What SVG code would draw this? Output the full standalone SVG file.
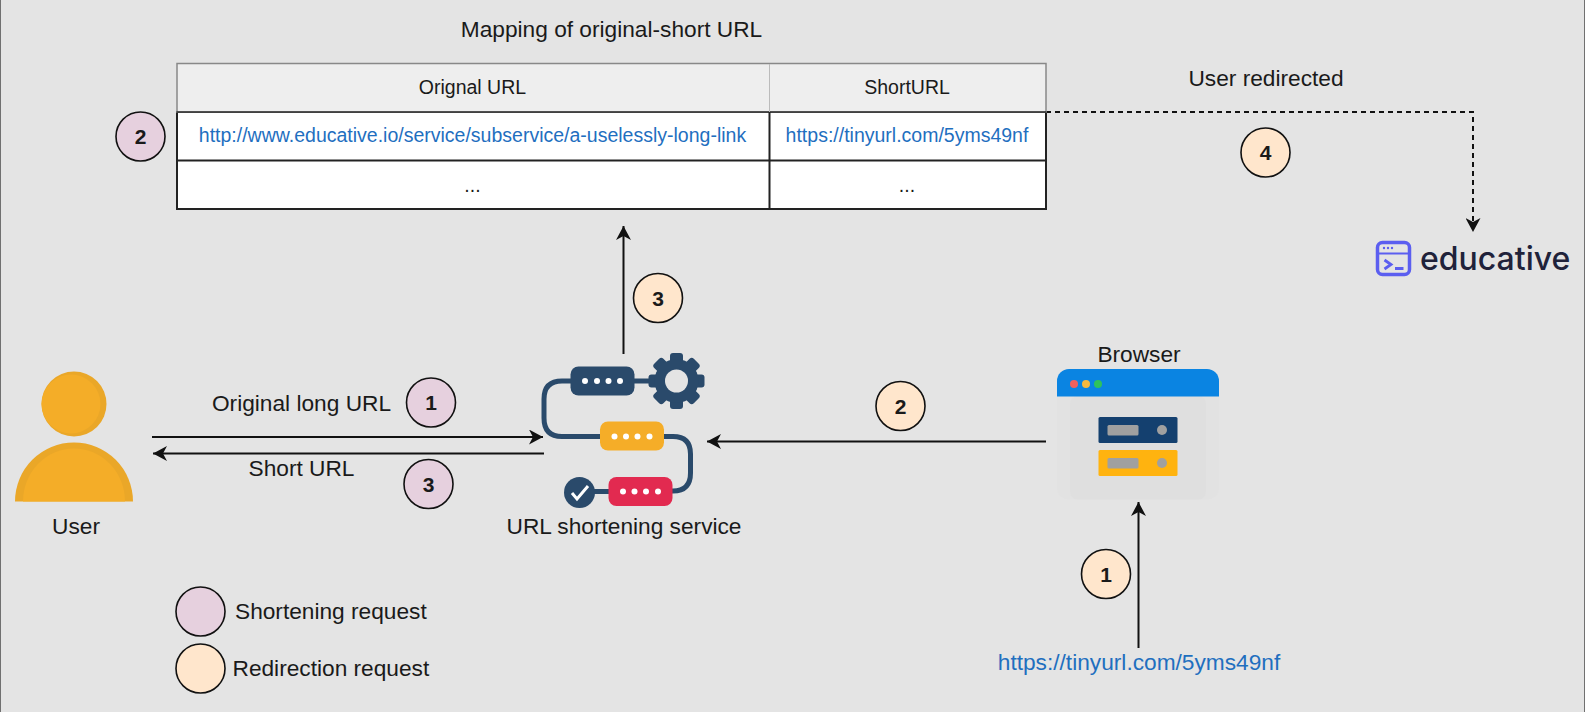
<svg xmlns="http://www.w3.org/2000/svg" width="1585" height="712" viewBox="0 0 1585 712">
<style>
text{font-family:"Liberation Sans",Arial,sans-serif;fill:#1a1a1a;font-size:22.7px}
.m{text-anchor:middle}
.t{font-size:19.5px}
.u{fill:#1f6fbf}
.n{font-size:21px;font-weight:700;text-anchor:middle}
.pk{fill:#e6d0de;stroke:#111;stroke-width:1.6}
.or{fill:#ffe6cc;stroke:#111;stroke-width:1.6}
.c{fill:none;stroke:#111;stroke-width:2}
.p{fill:none;stroke:#2a4a6b;stroke-width:5}
.d{fill:#fff}
.g{fill:#a0a0a0}
.b{fill:#5b5ef0}
</style>
<defs>
<marker id="a" markerWidth="15" markerHeight="15" refX="14" refY="7.5" orient="auto" markerUnits="userSpaceOnUse"><path d="M0 0L14 7.5L0 15L4 7.5Z" fill="#111"/></marker>
</defs>
<rect width="1585" height="712" fill="#e4e4e4"/>
<path d="M0.500 0V712M1584.500 0V712" stroke="#707070" fill="none"/>
<g id="connectors">
<path class="c" marker-end="url(#a)" d="M152 437H543"/>
<path class="c" marker-end="url(#a)" d="M544 453.500H153"/>
<path class="c" marker-end="url(#a)" d="M1046 441.500H707"/>
<path class="c" marker-end="url(#a)" d="M623.500 354V226"/>
<path class="c" marker-end="url(#a)" d="M1138.500 648V502"/>
<path class="c" marker-end="url(#a)" stroke-dasharray="5 4" d="M1046 112H1473V232"/>
</g>
<g id="table">
<rect x="177" y="112" width="869" height="97" fill="#fff" stroke="#222" stroke-width="2"/>
<rect x="177" y="63.500" width="869" height="48.500" fill="#eee" stroke="#888" stroke-width="1.500"/>
<path d="M177 112H1046" stroke="#333" stroke-width="1.300" fill="none"/>
<path d="M177 160.500H1046M769.500 112V209" stroke="#222" stroke-width="2" fill="none"/>
<path d="M769.500 64V112" stroke="#bbb" stroke-width="1"/>
<text class="t m" x="472.500" y="93.500">Orignal URL</text>
<text class="t m" x="907" y="93.500">ShortURL</text>
<text class="t m u" x="472.500" y="142">http://www.educative.io/service/subservice/a-uselessly-long-link</text>
<text class="t m u" x="907" y="142">https://tinyurl.com/5yms49nf</text>
<text class="t m" x="472.500" y="192">...</text>
<text class="t m" x="907" y="192">...</text>
</g>
<text id="title" class="m" x="611.500" y="37">Mapping of original-short URL</text>
<text id="redir" class="m" x="1266" y="86">User redirected</text>
<g id="user">
<circle cx="74" cy="404" r="32.500" fill="#eaa728"/>
<circle cx="71" cy="404" r="29.500" fill="#f4ad28"/>
<path d="M15 501.500A59 59 0 0 1 133 501.500Z" fill="#eaa728"/>
<path d="M23 501.500A51 53 0 0 1 125 501.500Z" fill="#f4ad28"/>
<text class="m" x="76" y="534">User</text>
</g>
<g id="service">
<path class="p" d="M572 381H562Q544 381 544 399V418Q544 436.500 562 436.500H602"/>
<path class="p" d="M662 436.500H673Q690.500 436.500 690.500 454V473Q690.500 491 673 491H670"/>
<path class="p" d="M590 491.500H610M632 381H655"/>
<g fill="#2a4a6b" transform="translate(676.500 381)">
<rect x="-28" y="-6.500" width="56" height="13" rx="3"/>
<rect x="-28" y="-6.500" width="56" height="13" rx="3" transform="rotate(45)"/>
<rect x="-28" y="-6.500" width="56" height="13" rx="3" transform="rotate(90)"/>
<rect x="-28" y="-6.500" width="56" height="13" rx="3" transform="rotate(135)"/>
<circle r="22"/>
<circle r="11.500" fill="#e4e4e4"/>
</g>
<rect x="570.500" y="366.500" width="64" height="29" rx="8" fill="#2a4a6b"/>
<rect x="600" y="421.500" width="64" height="29" rx="8" fill="#f5ad28"/>
<rect x="608.500" y="477" width="64" height="29" rx="8" fill="#e22a50"/>
<g class="d">
<circle cx="585" cy="381" r="3"/><circle cx="597" cy="381" r="3"/><circle cx="608.500" cy="381" r="3"/><circle cx="620" cy="381" r="3"/>
<circle cx="614.500" cy="436.500" r="3"/><circle cx="626" cy="436.500" r="3"/><circle cx="637.500" cy="436.500" r="3"/><circle cx="649.500" cy="436.500" r="3"/>
<circle cx="623" cy="491.500" r="3"/><circle cx="634.500" cy="491.500" r="3"/><circle cx="646" cy="491.500" r="3"/><circle cx="658" cy="491.500" r="3"/>
</g>
<circle cx="579.500" cy="492.500" r="15.500" fill="#2a4a6b"/>
<path d="M572 493L577 499L588 486" fill="none" stroke="#fff" stroke-width="3"/>
<text class="m" x="624" y="534">URL shortening service</text>
</g>
<g id="browser">
<text class="m" x="1139" y="361.500">Browser</text>
<rect x="1057" y="369" width="162" height="130.500" rx="12" fill="#e2e2e2"/>
<rect x="1070" y="396" width="136" height="103.500" rx="8" fill="#dfdfdf"/>
<path d="M1057 396.500V381A12 12 0 0 1 1069 369H1207A12 12 0 0 1 1219 381V396.500Z" fill="#0a84e2"/>
<circle cx="1074" cy="384" r="4" fill="#f0605c"/><circle cx="1086" cy="384" r="4" fill="#f5b93f"/><circle cx="1098" cy="384" r="4" fill="#2fc25b"/>
<rect x="1098.500" y="417" width="79" height="26" rx="1.500" fill="#14406f"/>
<rect x="1107.500" y="425" width="31" height="10.500" rx="1.500" class="g"/>
<circle cx="1162" cy="430" r="5" class="g"/>
<rect x="1098.500" y="450" width="79" height="26" rx="1.500" fill="#ffb30f"/>
<rect x="1107.500" y="458" width="31" height="10.500" rx="1.500" class="g"/>
<circle cx="1162" cy="463" r="5" class="g"/>
</g>
<g id="educative">
<rect x="1377.500" y="242.500" width="32" height="32" rx="5" fill="none" stroke="#5b5ef0" stroke-width="3.500"/>
<path d="M1378 253.500H1409" stroke="#5b5ef0" stroke-width="2"/>
<circle class="b" cx="1384" cy="248" r="1.200"/><circle class="b" cx="1388" cy="248" r="1.200"/><circle class="b" cx="1392" cy="248" r="1.200"/>
<path d="M1384.500 260L1391 264.500L1384.500 269M1395 268.500H1403.500" fill="none" stroke="#5b5ef0" stroke-width="2.800"/>
<text x="1420" y="270" style="font-family:Inter,sans-serif;font-size:32px;font-weight:500;fill:#20223a">educative</text>
</g>
<text id="url" class="m u" x="1139" y="670">https://tinyurl.com/5yms49nf</text>
<g id="badges">
<circle class="pk" cx="140.500" cy="136.500" r="24.500"/><text class="n" x="140.500" y="144">2</text>
<circle class="or" cx="1265.500" cy="152.500" r="24.500"/><text class="n" x="1265.500" y="160">4</text>
<circle class="or" cx="658" cy="298" r="24.500"/><text class="n" x="658" y="305.500">3</text>
<circle class="pk" cx="431" cy="402.500" r="24.500"/><text class="n" x="431" y="410">1</text>
<circle class="pk" cx="428.500" cy="484" r="24.500"/><text class="n" x="428.500" y="491.500">3</text>
<circle class="or" cx="900.500" cy="406" r="24.500"/><text class="n" x="900.500" y="413.500">2</text>
<circle class="or" cx="1106" cy="574" r="24.500"/><text class="n" x="1106" y="581.500">1</text>
</g>
<g id="legend">
<circle class="pk" cx="200.500" cy="611.500" r="24.500"/><text x="235" y="619">Shortening request</text>
<circle class="or" cx="200.500" cy="668.500" r="24.500"/><text x="232.500" y="676">Redirection request</text>
</g>
<text class="m" x="301.500" y="411">Original long URL</text>
<text class="m" x="301.500" y="476">Short URL</text>
</svg>
